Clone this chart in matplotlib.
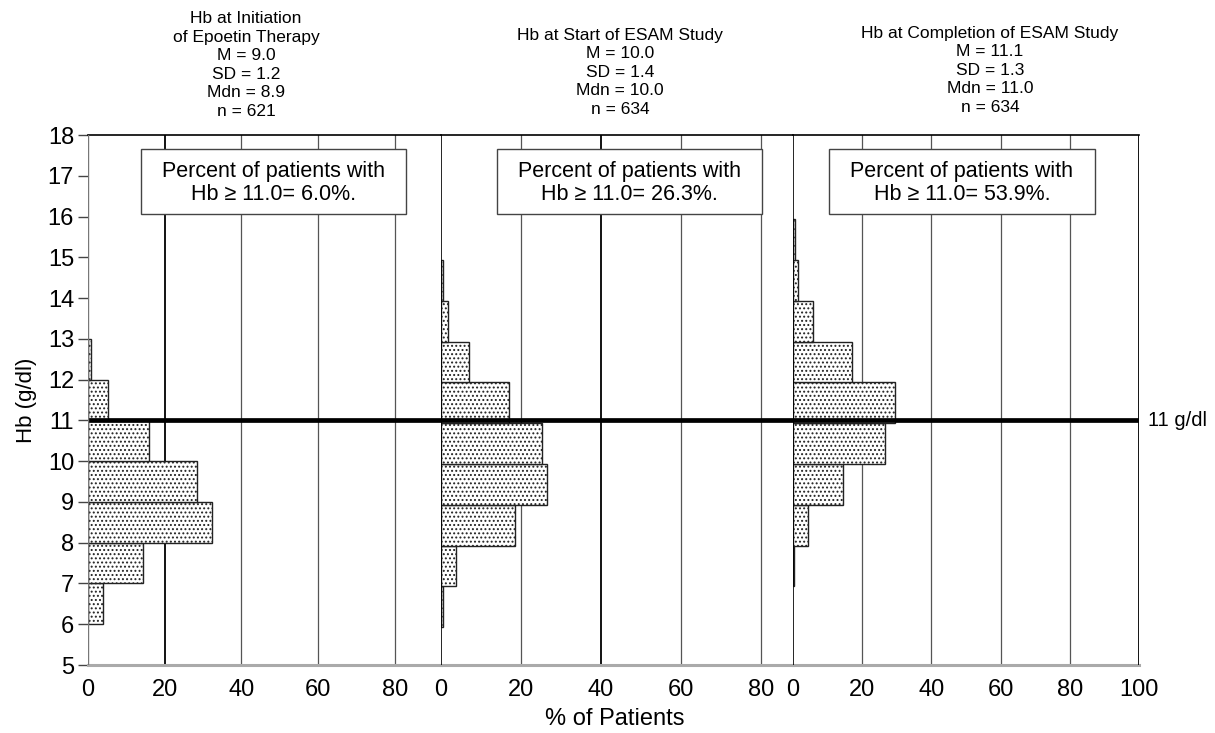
import matplotlib
matplotlib.use("Agg")
import matplotlib.pyplot as plt
from matplotlib.patches import Rectangle

plt.rcParams['font.family'] = ['Liberation Sans', 'DejaVu Sans']
plt.rcParams['hatch.linewidth'] = 0.9

# ---- data ----
hb_bins_initiation = [6, 7, 8, 9, 10, 11, 12]
pct_initiation = [3.8, 14.3, 32.3, 28.5, 15.8, 5.1, 0.9]

hb_bins_start = [6, 7, 8, 9, 10, 11, 12, 13, 14]
pct_start = [0.5, 3.8, 18.4, 26.5, 25.2, 17.0, 7.0, 1.8, 0.5]

hb_bins_completion = [7, 8, 9, 10, 11, 12, 13, 14, 15]
pct_completion = [0.3, 4.2, 14.4, 26.5, 29.4, 17.1, 5.9, 1.5, 0.5]

titles = [
    "Hb at Initiation\nof Epoetin Therapy\nM = 9.0\nSD = 1.2\nMdn = 8.9\nn = 621",
    "Hb at Start of ESAM Study\nM = 10.0\nSD = 1.4\nMdn = 10.0\nn = 634",
    "Hb at Completion of ESAM Study\nM = 11.1\nSD = 1.3\nMdn = 11.0\nn = 634",
]
box_texts = [
    "Percent of patients with\nHb \u2265 11.0= 6.0%.",
    "Percent of patients with\nHb \u2265 11.0= 26.3%.",
    "Percent of patients with\nHb \u2265 11.0= 53.9%.",
]
x_ticks_list = [[0, 20, 40, 60, 80], [0, 20, 40, 60, 80], [0, 20, 40, 60, 80, 100]]
y_ticks = list(range(5, 19))
threshold = 11

# ---- layout (pixels) ----
W, H = 1215, 733
fig = plt.figure(figsize=(W / 100, H / 100), dpi=100)
y_top, y_bot = 135, 665
panels_px = [(88, 441), (441, 793), (793, 1139)]
xlims = [92, 88, 100]
bins_all = [hb_bins_initiation, hb_bins_start, hb_bins_completion]
pcts_all = [pct_initiation, pct_start, pct_completion]
offsets = [0.0, -0.07, -0.07]
dark_grid = [20, 40, None]
box_px = [(141, 406), (497, 762), (829, 1095)]
title_cx = [246, 620, 990]
title_bottom = [119, 117, 115]

axes = []
for i, (x0, x1) in enumerate(panels_px):
    ax = fig.add_axes([x0 / W, (H - y_bot) / H, (x1 - x0) / W, (y_bot - y_top) / H])
    ax.set_xlim(0, xlims[i])
    ax.set_ylim(5, 18)
    ax.set_facecolor('none')
    # grid lines
    for t in x_ticks_list[i][1:]:
        if t >= xlims[i]:
            continue
        col = 'black' if t == dark_grid[i] else '#555555'
        lw = 1.3 if t == dark_grid[i] else 0.9
        ax.axvline(t, color=col, lw=lw, zorder=1)
    # bars
    ax.barh([b + offsets[i] for b in bins_all[i]], pcts_all[i], height=1.0, align='edge',
            color='white', edgecolor='#222222', hatch='....', lw=1.0, zorder=3)
    # threshold line
    ax.axhline(threshold, color='black', lw=3.4, zorder=5)
    # text box
    bx0, bx1 = box_px[i]
    sx = xlims[i] / (x1 - x0)
    sy = 13 / (y_bot - y_top)
    rx0 = (bx0 - x0) * sx
    rw = (bx1 - bx0) * sx
    ry1 = 18 - (149 - y_top) * sy
    ry0 = 18 - (214 - y_top) * sy
    ax.add_patch(Rectangle((rx0, ry0), rw, ry1 - ry0, facecolor='white',
                           edgecolor='#444444', lw=1.0, zorder=4))
    ax.text(rx0 + rw / 2, (ry0 + ry1) / 2 - 0.03, box_texts[i], ha='center', va='center',
            fontsize=15.5, linespacing=1.1, zorder=6)
    # spines
    for s in ax.spines.values():
        s.set_visible(False)
    ax.axhline(18, color='black', lw=1.2, zorder=6, clip_on=False)
    ax.axhline(5, color='#aaaaaa', lw=2.2, zorder=6, clip_on=False)
    if i == 0:
        ax.axvline(0, color='#777777', lw=1.0, zorder=6)
    else:
        ax.axvline(0, color='black', lw=1.2, zorder=6)
    if i == 2:
        ax.axvline(100, color='black', lw=1.3, zorder=6)
    ax.set_xticks(x_ticks_list[i])
    ax.set_xticklabels([str(t) for t in x_ticks_list[i]], fontsize=17)
    ax.tick_params(axis='x', length=0, pad=10)
    if i == 0:
        ax.set_yticks(y_ticks)
        ax.set_yticklabels([str(t) for t in y_ticks], fontsize=17)
        ax.tick_params(axis='y', length=7, color='#444444', width=1, pad=3)
        ax.set_ylabel("Hb (g/dl)", fontsize=16, labelpad=8)
    else:
        ax.set_yticks([])
    axes.append(ax)
    fig.text(title_cx[i] / W, (H - title_bottom[i]) / H, titles[i], ha='center', va='bottom',
             fontsize=12.5, linespacing=1.3)

fig.text(1148 / W, (H - 421) / H, "11 g/dl", ha='left', va='center', fontsize=14.5)
fig.text(615 / W, (H - 719) / H, "% of Patients", ha='center', va='center', fontsize=17)

fig.savefig("out.png", dpi=100)
